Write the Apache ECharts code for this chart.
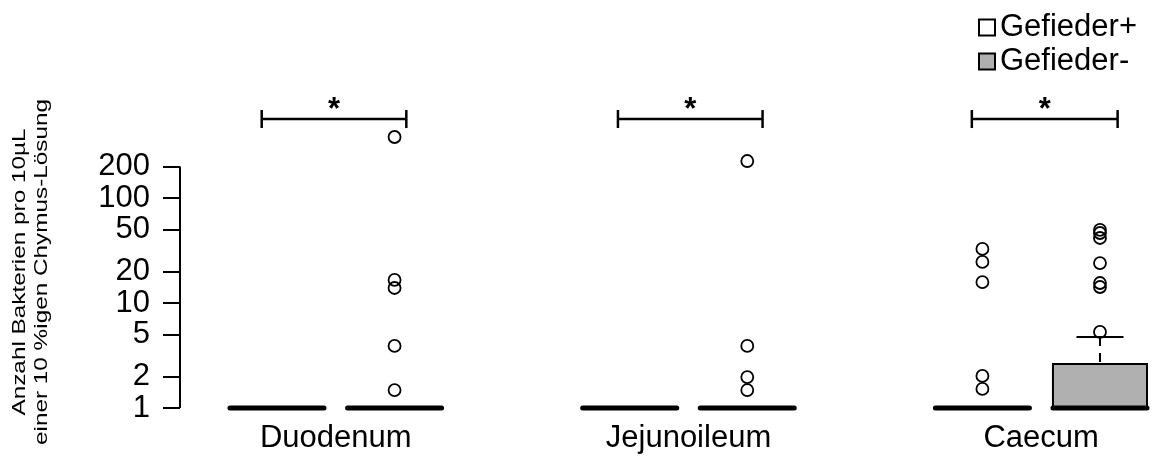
<!DOCTYPE html>
<html><head><meta charset="utf-8">
<script src="https://cdn.jsdelivr.net/npm/echarts@6/dist/echarts.min.js"></script>
<style>html,body{margin:0;padding:0;background:#fff}#c{width:1157px;height:457px}</style>
</head><body><div id="c"></div>
<script>
// ---- data ----
const groups = ['Duodenum', 'Jejunoileum', 'Caecum'];
const seriesNames = ['Gefieder+', 'Gefieder-'];
const positionsPlus = [1, 4, 7];
const positionsMinus = [2, 5, 8];
const labelPositions = [1.5, 4.5, 7.5];
const yTicks = [1, 2, 5, 10, 20, 50, 100, 200];
// box statistics: [min, Q1, median, Q3, max]
const boxPlus = [[1, 1, 1, 1, 1], [1, 1, 1, 1, 1], [1, 1, 1, 1, 1]];
const boxMinus = [[1, 1, 1, 1, 1], [1, 1, 1, 1, 1], [1, 1, 1, 2.62, 4.75]];
const outliersPlus = [[], [], [32.7, 24.6, 15.8, 2.02, 1.52]];
const outliersMinus = [[381, 16.6, 13.9, 3.9, 1.48], [225, 3.9, 1.97, 1.48], [49.6, 46.4, 41.6, 24.0, 15.5, 14.2, 5.3]];
const sigStars = ['*', '*', '*'];
const bracketLeft = [0.87, 3.90, 6.91];
const bracketRight = [2.10, 5.13, 8.15];
const bracketValue = 565;

// ---- layout ----
const X_MIN = 0.175, X_MAX = 8.485;
const FONT = '"Liberation Sans", Arial, sans-serif';
const GREY = '#B0B0B0';

const chart = echarts.init(document.getElementById('c'));

function boxRender(fill) {
  return function (params, api) {
    const x = api.value(0);
    const mn = api.value(1), q1 = api.value(2), md = api.value(3), q3 = api.value(4), mx = api.value(5);
    const hw = 0.4, cw = 0.2;
    const ch = [];
    if (q3 > q1) {
      const a = api.coord([x - hw, q3]), b = api.coord([x + hw, q1]);
      ch.push({ type: 'rect', shape: { x: a[0], y: a[1], width: b[0] - a[0], height: b[1] - a[1] },
        style: { fill: fill, stroke: '#000', lineWidth: 2 } });
    }
    if (mx > q3) {
      const p1 = api.coord([x, mx]), p2 = api.coord([x, q3]);
      ch.push({ type: 'line', shape: { x1: p1[0], y1: p1[1], x2: p2[0], y2: p2[1] },
        style: { stroke: '#000', lineWidth: 2, lineDash: [9, 7] } });
      const c1 = api.coord([x - cw, mx]), c2 = api.coord([x + cw, mx]);
      ch.push({ type: 'line', shape: { x1: c1[0], y1: c1[1], x2: c2[0], y2: c2[1] },
        style: { stroke: '#000', lineWidth: 2 } });
    }
    if (mn < q1) {
      const p1 = api.coord([x, q1]), p2 = api.coord([x, mn]);
      ch.push({ type: 'line', shape: { x1: p1[0], y1: p1[1], x2: p2[0], y2: p2[1] },
        style: { stroke: '#000', lineWidth: 2, lineDash: [9, 7] } });
      const c1 = api.coord([x - cw, mn]), c2 = api.coord([x + cw, mn]);
      ch.push({ type: 'line', shape: { x1: c1[0], y1: c1[1], x2: c2[0], y2: c2[1] },
        style: { stroke: '#000', lineWidth: 2 } });
    }
    const m1 = api.coord([x - hw, md]), m2 = api.coord([x + hw, md]);
    ch.push({ type: 'line', shape: { x1: m1[0], y1: m1[1], x2: m2[0], y2: m2[1] },
      style: { stroke: '#000', lineWidth: 5, lineCap: 'round' } });
    return { type: 'group', children: ch };
  };
}

function outlierData(pos, outs) {
  const d = [];
  outs.forEach((arr, i) => arr.forEach(v => d.push([pos[i], v])));
  return d;
}

const option = {
  animation: false,
  backgroundColor: '#fff',
  textStyle: { fontFamily: FONT },
  grid: { left: 180, right: 0, top: 93, bottom: 49, containLabel: false },
  legend: {
    orient: 'vertical', left: 973, top: 7, padding: 5, itemWidth: 16, itemHeight: 16, itemGap: 3,
    selectedMode: false,
    textStyle: { fontSize: 31, color: '#000', fontFamily: FONT },
    data: [
      { name: seriesNames[0], icon: 'rect', itemStyle: { color: '#fff', borderColor: '#000', borderWidth: 2 } },
      { name: seriesNames[1], icon: 'rect', itemStyle: { color: GREY, borderColor: '#000', borderWidth: 2 } }
    ]
  },
  graphic: [{
    type: 'text', x: 31, y: 272, rotation: Math.PI / 2, scaleX: 1.28,
    style: {
      text: 'Anzahl Bakterien pro 10µL\neiner 10 %igen Chymus-Lösung',
      font: '19px ' + FONT, fill: '#000', textAlign: 'center', textVerticalAlign: 'middle', lineHeight: 22
    }
  }],
  xAxis: {
    type: 'value', min: X_MIN, max: X_MAX,
    axisLine: { show: false }, axisTick: { show: false }, splitLine: { show: false },
    axisLabel: {
      customValues: labelPositions,
      formatter: v => groups[labelPositions.indexOf(v)] || '',
      fontSize: 31, color: '#000', margin: 15, fontFamily: FONT
    }
  },
  yAxis: {
    type: 'log', logBase: 10, min: 1, max: 1000,
    axisLine: { show: false }, splitLine: { show: false },
    axisTick: { show: true, customValues: yTicks, length: 17, lineStyle: { color: '#000', width: 2 } },
    axisLabel: { customValues: yTicks, fontSize: 31, color: '#000', margin: 30, fontFamily: FONT }
  },
  series: [
    {
      type: 'custom', name: 'yAxisLine', silent: true,
      data: [[X_MIN, yTicks[0], yTicks[yTicks.length - 1]]],
      renderItem: (p, api) => {
        const a = api.coord([api.value(0), api.value(1)]), b = api.coord([api.value(0), api.value(2)]);
        return { type: 'line', shape: { x1: a[0], y1: a[1], x2: b[0], y2: b[1] }, style: { stroke: '#000', lineWidth: 2 } };
      }
    },
    {
      type: 'custom', name: seriesNames[0], itemStyle: { color: '#fff' }, z: 3,
      data: boxPlus.map((b, i) => [positionsPlus[i]].concat(b)),
      encode: { x: 0, y: [1, 2, 3, 4, 5] },
      renderItem: boxRender('#fff')
    },
    {
      type: 'custom', name: seriesNames[1], itemStyle: { color: GREY }, z: 3,
      data: boxMinus.map((b, i) => [positionsMinus[i]].concat(b)),
      encode: { x: 0, y: [1, 2, 3, 4, 5] },
      renderItem: boxRender(GREY)
    },
    {
      type: 'scatter', name: 'Ausreißer +', z: 5, symbol: 'circle', symbolSize: 12,
      itemStyle: { color: '#fff', borderColor: '#000', borderWidth: 1.8, opacity: 1 },
      data: outlierData(positionsPlus, outliersPlus)
    },
    {
      type: 'scatter', name: 'Ausreißer -', z: 5, symbol: 'circle', symbolSize: 12,
      itemStyle: { color: 'rgba(255,255,255,0)', borderColor: '#000', borderWidth: 1.8, opacity: 1 },
      data: outlierData(positionsMinus, outliersMinus)
    },
    {
      type: 'custom', name: 'Signifikanz', z: 4,
      data: groups.map((g, i) => [bracketLeft[i], bracketRight[i], bracketValue, i]),
      renderItem: (p, api) => {
        const a = api.coord([api.value(0), api.value(2)]), b = api.coord([api.value(1), api.value(2)]);
        const t = 9;
        return {
          type: 'group', children: [
            { type: 'line', shape: { x1: a[0], y1: a[1], x2: b[0], y2: b[1] }, style: { stroke: '#000', lineWidth: 2.5 } },
            { type: 'line', shape: { x1: a[0], y1: a[1] - t, x2: a[0], y2: a[1] + t }, style: { stroke: '#000', lineWidth: 2.5 } },
            { type: 'line', shape: { x1: b[0], y1: b[1] - t, x2: b[0], y2: b[1] + t }, style: { stroke: '#000', lineWidth: 2.5 } },
            { type: 'text', x: (a[0] + b[0]) / 2, y: a[1] - 9,
              style: { text: sigStars[api.value(3)], font: 'bold 31px ' + FONT, fill: '#000', textAlign: 'center', textVerticalAlign: 'middle' } }
          ]
        };
      }
    }
  ]
};
chart.setOption(option);
</script>
</body></html>
